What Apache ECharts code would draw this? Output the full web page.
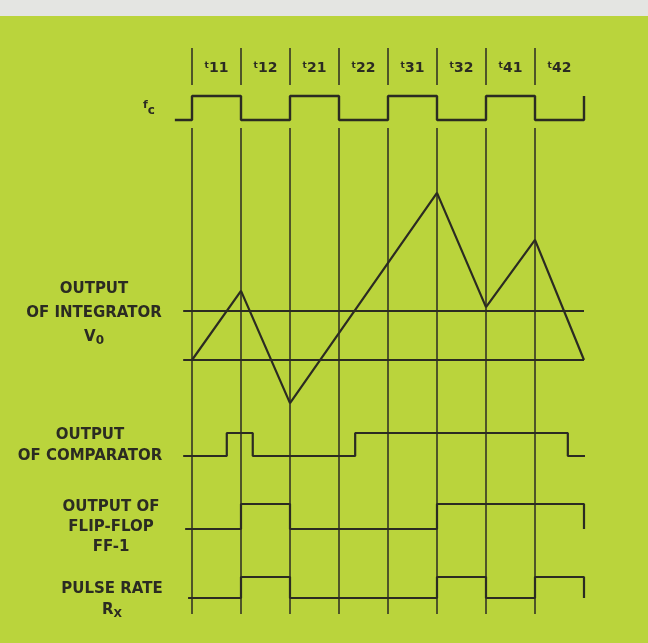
<!DOCTYPE html>
<html>
<head>
<meta charset="utf-8">
<script src="https://cdn.jsdelivr.net/npm/echarts@6/dist/echarts.min.js"></script>
<style>
html, body { margin: 0; padding: 0; background: #bad43c; }
#chart { width: 648px; height: 643px; }
</style>
</head>
<body>
<div id="chart"></div>
<script>
// time runs in half periods of fc: 0 .. 8 covers t11 .. t42
const slotLabels = ['11', '12', '21', '22', '31', '32', '41', '42'];

const fcTimes = [-0.35, 0, 1, 2, 3, 4, 5, 6, 7, 8];
const fcLevels = [0, 1, 0, 1, 0, 1, 0, 1, 0, 1];

// integrator output, in units of the threshold (lower ref = 0, upper ref = 1)
const intTimes = [0, 1, 2, 5, 6, 7, 8];
const intValues = [0, 1.41, -0.88, 3.41, 1.08, 2.45, 0];
const refLevels = [0, 1];
const refSpan = [-0.18, 8];

const cmpTimes = [-0.18, 0.71, 1.24, 3.33, 7.67, 8.02];
const cmpLevels = [0, 1, 0, 1, 0, 0];

const ffTimes = [-0.14, 1, 2, 5, 8];
const ffLevels = [0, 1, 0, 1, 0];

const pulseTimes = [-0.08, 1, 2, 5, 6, 7, 8];
const pulseLevels = [0, 1, 0, 1, 0, 1, 0];

const ink = '#2b2b22';
const font = '"DejaVu Sans", sans-serif';

function zip(xs, ys) {
  return xs.map((x, i) => [x, ys[i]]);
}

// grid rows: ticks, fc, integrator, comparator, ff, pulse, vertical lines
const rows = [
  { top: 48, height: 37, min: 0, max: 1, split: true },
  { top: 96, height: 24, min: 0, max: 1 },
  { top: 188.5, height: 220.5, min: -1, max: 3.5 },
  { top: 433, height: 23, min: 0, max: 1 },
  { top: 504, height: 25, min: 0, max: 1 },
  { top: 577, height: 21, min: 0, max: 1 },
  { top: 128, height: 486, min: 0, max: 1, split: true }
];

let myChart = echarts.init(document.getElementById('chart'));

let xAxes = rows.map((r, i) => ({
  type: 'value',
  gridIndex: i,
  min: -1,
  max: 8,
  interval: 1,
  position: 'top',
  axisLine: { show: false },
  axisTick: { show: false },
  axisLabel: { show: false },
  splitLine: {
    show: !!r.split,
    showMinLine: false,
    showMaxLine: false,
    lineStyle: { color: ink, width: 1.5 }
  }
}));
// slot names sit between the tick marks
xAxes.push({
  type: 'category',
  gridIndex: 0,
  position: 'bottom',
  data: [''].concat(slotLabels),
  boundaryGap: true,
  axisLine: { show: false },
  axisTick: { show: false },
  splitLine: { show: false },
  axisLabel: {
    interval: 0,
    margin: -24,
    formatter: v => v ? '{t|t}{n|' + v + '}' : '',
    rich: {
      t: { fontSize: 9, fontFamily: font, fontWeight: 'bold', color: ink, verticalAlign: 'top', lineHeight: 9 },
      n: { fontSize: 14, fontFamily: font, fontWeight: 'bold', color: ink, lineHeight: 15 }
    }
  }
});

let option = {
  backgroundColor: '#bad43c',
  animation: false,
  grid: rows.map(r => ({ left: 143, right: 64, top: r.top, height: r.height })),
  xAxis: xAxes,
  yAxis: rows.map((r, i) => ({ type: 'value', gridIndex: i, min: r.min, max: r.max, show: false })),
  series: [
    {
      type: 'line', xAxisIndex: 1, yAxisIndex: 1, step: 'end', clip: false,
      data: zip(fcTimes, fcLevels), symbol: 'none',
      lineStyle: { color: ink, width: 2.4 }
    },
    ...refLevels.map(lv => ({
      type: 'line', xAxisIndex: 2, yAxisIndex: 2, clip: false,
      data: refSpan.map(x => [x, lv]), symbol: 'none',
      lineStyle: { color: ink, width: 1.8 }
    })),
    {
      type: 'line', xAxisIndex: 2, yAxisIndex: 2, clip: false,
      data: zip(intTimes, intValues), symbol: 'none',
      lineStyle: { color: ink, width: 2.2 }
    },
    {
      type: 'line', xAxisIndex: 3, yAxisIndex: 3, step: 'end', clip: false,
      data: zip(cmpTimes, cmpLevels), symbol: 'none',
      lineStyle: { color: ink, width: 2.2 }
    },
    {
      type: 'line', xAxisIndex: 4, yAxisIndex: 4, step: 'end', clip: false,
      data: zip(ffTimes, ffLevels), symbol: 'none',
      lineStyle: { color: ink, width: 2.2 }
    },
    {
      type: 'line', xAxisIndex: 5, yAxisIndex: 5, step: 'end', clip: false,
      data: zip(pulseTimes, pulseLevels), symbol: 'none',
      lineStyle: { color: ink, width: 2.2 }
    }
  ],
  graphic: [
    { type: 'rect', shape: { x: 0, y: 0, width: 648, height: 16 }, style: { fill: '#e4e5e2' }, silent: true },
    {
      type: 'text', x: 149, y: 108,
      style: {
        text: '{f|f}{c|c}', align: 'center', verticalAlign: 'middle', fill: ink,
        rich: {
          f: { fontSize: 11, fontFamily: font, fontWeight: 'bold', fill: ink, verticalAlign: 'top', lineHeight: 10 },
          c: { fontSize: 12, fontFamily: font, fontWeight: 'bold', fill: ink, verticalAlign: 'bottom', lineHeight: 17 }
        }
      }
    },
    {
      type: 'text', x: 94, y: 313,
      style: {
        text: '{a|OUTPUT}\n{a|OF INTEGRATOR}\n{a|V}{s|0}', align: 'center', verticalAlign: 'middle',
        rich: {
          a: { fontSize: 15, fontFamily: font, fontWeight: 'bold', fill: ink, lineHeight: 24 },
          s: { fontSize: 12, fontFamily: font, fontWeight: 'bold', fill: ink, lineHeight: 24, padding: [8, 0, 0, 0] }
        }
      }
    },
    {
      type: 'text', x: 90, y: 445.5,
      style: {
        text: 'OUTPUT\nOF COMPARATOR', align: 'center', verticalAlign: 'middle',
        font: 'bold 15px ' + font, fill: ink, lineHeight: 21
      }
    },
    {
      type: 'text', x: 111, y: 527,
      style: {
        text: 'OUTPUT OF\nFLIP-FLOP\nFF-1', align: 'center', verticalAlign: 'middle',
        font: 'bold 15px ' + font, fill: ink, lineHeight: 20
      }
    },
    {
      type: 'text', x: 112, y: 600,
      style: {
        text: '{a|PULSE RATE}\n{a|R}{s|X}', align: 'center', verticalAlign: 'middle',
        rich: {
          a: { fontSize: 15, fontFamily: font, fontWeight: 'bold', fill: ink, lineHeight: 21 },
          s: { fontSize: 11, fontFamily: font, fontWeight: 'bold', fill: ink, lineHeight: 21, padding: [8, 0, 0, 0] }
        }
      }
    }
  ]
};

myChart.setOption(option);
</script>
</body>
</html>
